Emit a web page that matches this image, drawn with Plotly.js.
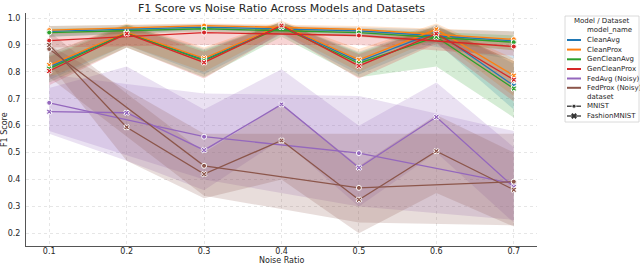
<!DOCTYPE html>
<html>
<head>
<meta charset="utf-8">
<script src="https://cdn.plot.ly/plotly-3.0.1.min.js"></script>
<style>html,body{margin:0;padding:0;background:#fff;}#chart{width:640px;height:265px;}</style>
</head>
<body>
<div id="chart"></div>
<script>
// ---------- data ----------
const noiseAll = [0.1, 0.2, 0.3, 0.4, 0.5, 0.6, 0.7];   // FashionMNIST points
const noiseOdd = [0.1, 0.3, 0.5, 0.7];                  // MNIST points
const models = ["CleanAvg", "CleanProx", "GenCleanAvg", "GenCleanProx", "FedAvg (Noisy)", "FedProx (Noisy)"];
const datasets = ["MNIST", "FashionMNIST"];
const xTicks = [0.1, 0.2, 0.3, 0.4, 0.5, 0.6, 0.7];
const yTicks = [0.2, 0.3, 0.4, 0.5, 0.6, 0.7, 0.8, 0.9, 1.0];

// MNIST (mean / lower / upper)
const cleanAvgMnist      = [0.950, 0.966, 0.952, 0.915];
const cleanAvgMnistLo    = [0.930, 0.955, 0.940, 0.845];
const cleanAvgMnistHi    = [0.970, 0.977, 0.965, 0.950];
const cleanProxMnist     = [0.955, 0.972, 0.958, 0.921];
const cleanProxMnistLo   = [0.940, 0.962, 0.945, 0.880];
const cleanProxMnistHi   = [0.970, 0.980, 0.970, 0.950];
const genAvgMnist        = [0.946, 0.960, 0.946, 0.910];
const genAvgMnistLo      = [0.930, 0.950, 0.930, 0.880];
const genAvgMnistHi      = [0.960, 0.970, 0.960, 0.935];
const genProxMnist       = [0.916, 0.946, 0.935, 0.894];
const genProxMnistLo     = [0.890, 0.900, 0.900, 0.860];
const genProxMnistHi     = [0.945, 0.965, 0.955, 0.920];
const fedAvgMnist        = [0.685, 0.559, 0.498, 0.385];
const fedAvgMnistLo      = [0.580, 0.400, 0.300, 0.250];
const fedAvgMnistHi      = [0.790, 0.720, 0.710, 0.580];
const fedProxMnist       = [0.885, 0.451, 0.369, 0.392];
const fedProxMnistLo     = [0.780, 0.340, 0.240, 0.230];
const fedProxMnistHi     = [0.900, 0.570, 0.570, 0.570];

// FashionMNIST (mean / lower / upper)
const cleanAvgFashion    = [0.818, 0.945, 0.845, 0.972, 0.838, 0.948, 0.749];
const cleanAvgFashionLo  = [0.770, 0.900, 0.790, 0.940, 0.790, 0.910, 0.660];
const cleanAvgFashionHi  = [0.870, 0.975, 0.885, 0.985, 0.875, 0.975, 0.830];
const cleanProxFashion   = [0.825, 0.947, 0.850, 0.974, 0.845, 0.958, 0.786];
const cleanProxFashionLo = [0.780, 0.900, 0.800, 0.950, 0.800, 0.925, 0.710];
const cleanProxFashionHi = [0.870, 0.980, 0.890, 0.990, 0.885, 0.980, 0.850];
const genAvgFashion      = [0.812, 0.944, 0.842, 0.966, 0.832, 0.930, 0.738];
const genAvgFashionLo    = [0.760, 0.890, 0.780, 0.930, 0.780, 0.820, 0.630];
const genAvgFashionHi    = [0.860, 0.975, 0.880, 0.985, 0.870, 0.970, 0.840];
const genProxFashion     = [0.803, 0.942, 0.835, 0.972, 0.822, 0.942, 0.771];
const genProxFashionLo   = [0.750, 0.890, 0.775, 0.945, 0.775, 0.905, 0.690];
const genProxFashionHi   = [0.855, 0.970, 0.875, 0.985, 0.865, 0.970, 0.840];
const fedAvgFashion      = [0.652, 0.648, 0.509, 0.679, 0.444, 0.632, 0.372];
const fedAvgFashionLo    = [0.570, 0.470, 0.360, 0.550, 0.300, 0.500, 0.240];
const fedAvgFashionHi    = [0.740, 0.820, 0.660, 0.810, 0.600, 0.760, 0.520];
const fedProxFashion     = [0.900, 0.594, 0.420, 0.545, 0.325, 0.505, 0.362];
const fedProxFashionLo   = [0.830, 0.470, 0.330, 0.400, 0.200, 0.350, 0.225];
const fedProxFashionHi   = [0.950, 0.720, 0.500, 0.680, 0.450, 0.640, 0.500];

// ---------- styling ----------
const colors = ["#1f77b4", "#ff7f0e", "#2ca02c", "#d62728", "#9467bd", "#8c564b"];
function rgba(hex, a) {
  const r = parseInt(hex.slice(1,3),16), g = parseInt(hex.slice(3,5),16), b = parseInt(hex.slice(5,7),16);
  return `rgba(${r},${g},${b},${a})`;
}

const series = [
  {m:0, d:0, x:noiseOdd, y:cleanAvgMnist,  lo:cleanAvgMnistLo,  hi:cleanAvgMnistHi},
  {m:0, d:1, x:noiseAll, y:cleanAvgFashion, lo:cleanAvgFashionLo, hi:cleanAvgFashionHi},
  {m:1, d:0, x:noiseOdd, y:cleanProxMnist, lo:cleanProxMnistLo, hi:cleanProxMnistHi},
  {m:1, d:1, x:noiseAll, y:cleanProxFashion, lo:cleanProxFashionLo, hi:cleanProxFashionHi},
  {m:2, d:0, x:noiseOdd, y:genAvgMnist,    lo:genAvgMnistLo,    hi:genAvgMnistHi},
  {m:2, d:1, x:noiseAll, y:genAvgFashion,  lo:genAvgFashionLo,  hi:genAvgFashionHi},
  {m:3, d:0, x:noiseOdd, y:genProxMnist,   lo:genProxMnistLo,   hi:genProxMnistHi},
  {m:3, d:1, x:noiseAll, y:genProxFashion, lo:genProxFashionLo, hi:genProxFashionHi},
  {m:4, d:0, x:noiseOdd, y:fedAvgMnist,    lo:fedAvgMnistLo,    hi:fedAvgMnistHi},
  {m:4, d:1, x:noiseAll, y:fedAvgFashion,  lo:fedAvgFashionLo,  hi:fedAvgFashionHi},
  {m:5, d:0, x:noiseOdd, y:fedProxMnist,   lo:fedProxMnistLo,   hi:fedProxMnistHi},
  {m:5, d:1, x:noiseAll, y:fedProxFashion, lo:fedProxFashionLo, hi:fedProxFashionHi}
];

const traces = [];
// bands first (below all lines)
series.forEach(s => {
  const c = colors[s.m];
  traces.push({x:s.x, y:s.hi, type:"scatter", mode:"lines", line:{width:0, color:c}, hoverinfo:"skip", showlegend:false});
  traces.push({x:s.x, y:s.lo, type:"scatter", mode:"lines", line:{width:0, color:c}, fill:"tonexty",
               fillcolor:rgba(c,0.2), hoverinfo:"skip", showlegend:false});
});
// lines
const symbols = ["circle", "x"];
series.forEach(s => {
  const c = colors[s.m];
  traces.push({x:s.x, y:s.y, type:"scatter", mode:"lines+markers",
    name: models[s.m] + " / " + datasets[s.d],
    line:{color:c, width:1.3},
    marker:{symbol:symbols[s.d], size:5, color:c, line:{color:"#ffffff", width:1}},
    showlegend:false});
});

// ---------- geometry helpers (plot area in px) ----------
const W = 640, H = 265, mL = 26, mR = 103, mT = 13, mB = 19;
const pw = W - mL - mR, ph = H - mT - mB;
const px = v => (v - mL) / pw;          // px -> paper x
const py = v => (H - mB - v) / ph;      // px -> paper y

// ---------- manual legend ----------
const shapes = [];
const annotations = [];
const font7 = {family:"DejaVu Sans", size:7, color:"#262626"};
shapes.push({type:"rect", xref:"paper", yref:"paper", x0:px(565), x1:px(639), y0:py(16), y1:py(122),
             line:{color:"#d0d0d0", width:0.8}, fillcolor:"rgba(255,255,255,0.8)", layer:"above"});
annotations.push({xref:"paper", yref:"paper", x:px(601.5), y:py(21), text:"Model / Dataset", showarrow:false,
                  xanchor:"center", yanchor:"middle", font:font7});
annotations.push({xref:"paper", yref:"paper", x:px(585), y:py(30.5), text:"model_name", showarrow:false,
                  xanchor:"left", yanchor:"middle", font:font7});
const rowY = [40, 49.6, 59.3, 69, 78.5, 87.8];
models.forEach((m, i) => {
  shapes.push({type:"line", xref:"paper", yref:"paper", x0:px(567), x1:px(581), y0:py(rowY[i]), y1:py(rowY[i]),
               line:{color:colors[i], width:2}, layer:"above"});
  annotations.push({xref:"paper", yref:"paper", x:px(585), y:py(rowY[i]), text:m, showarrow:false,
                    xanchor:"left", yanchor:"middle", font:font7});
});
annotations.push({xref:"paper", yref:"paper", x:px(585), y:py(96.8), text:"dataset", showarrow:false,
                  xanchor:"left", yanchor:"middle", font:font7});
const dsY = [106.2, 116];
datasets.forEach((d, i) => {
  shapes.push({type:"line", xref:"paper", yref:"paper", x0:px(567), x1:px(581), y0:py(dsY[i]), y1:py(dsY[i]),
               line:{color:"#333333", width:1.3}, layer:"above"});
  annotations.push({xref:"paper", yref:"paper", x:px(585), y:py(dsY[i]), text:d, showarrow:false,
                    xanchor:"left", yanchor:"middle", font:font7});
});
// legend marker glyphs
shapes.push({type:"circle", xref:"paper", yref:"paper", x0:px(572), x1:px(576), y0:py(dsY[0]-2), y1:py(dsY[0]+2),
             line:{color:"#ffffff", width:0.8}, fillcolor:"#333333", layer:"above"});
(function(){
  const cx = 574, cy = dsY[1], r = 2.2;
  const p = `M ${px(cx-r)} ${py(cy-r)} L ${px(cx+r)} ${py(cy+r)} M ${px(cx-r)} ${py(cy+r)} L ${px(cx+r)} ${py(cy-r)}`;
  shapes.push({type:"path", xref:"paper", yref:"paper", path:p, line:{color:"#333333", width:2}, layer:"above"});
})();

// axis titles as annotations for exact placement
annotations.push({xref:"paper", yref:"paper", x:px(281.5), y:py(260.3), text:"Noise Ratio", showarrow:false,
                  xanchor:"center", yanchor:"middle", font:{family:"DejaVu Sans", size:8, color:"#262626"}});
annotations.push({xref:"paper", yref:"paper", x:px(4.5), y:0.5, text:"F1 Score", showarrow:false, textangle:-90,
                  xanchor:"center", yanchor:"middle", font:{family:"DejaVu Sans", size:8, color:"#262626"}});

const layout = {
  width:W, height:H,
  margin:{l:mL, r:mR, t:mT, b:mB, pad:0},
  paper_bgcolor:"#ffffff", plot_bgcolor:"#ffffff",
  font:{family:"DejaVu Sans", color:"#262626", size:8},
  title:{text:"F1 Score vs Noise Ratio Across Models and Datasets", xref:"paper", x:0.5, xanchor:"center",
         yref:"container", y:1 - 8/H, yanchor:"middle", font:{family:"DejaVu Sans", size:11, color:"#262626"}},
  showlegend:false,
  xaxis:{range:[0.07, 0.73], tickvals:xTicks, ticktext:xTicks.map(v=>v.toFixed(1)),
         showgrid:true, gridcolor:"#e0e0e0", griddash:"dot", gridwidth:0.8, zeroline:false,
         showline:true, linecolor:"#555555", linewidth:1, ticks:"", ticklabelstandoff:-3,
         tickfont:{size:8, color:"#262626"}},
  yaxis:{range:[0.153, 1.0186], tickvals:yTicks, ticktext:yTicks.map(v=>v.toFixed(1)),
         showgrid:true, gridcolor:"#e0e0e0", griddash:"dot", gridwidth:0.8, zeroline:false,
         showline:true, linecolor:"#555555", linewidth:1, ticks:"outside", ticklen:3, tickcolor:"rgba(0,0,0,0)",
         tickfont:{size:8, color:"#262626"}},
  shapes:shapes,
  annotations:annotations
};

Plotly.newPlot("chart", traces, layout, {displayModeBar:false, staticPlot:true});
</script>
</body>
</html>
